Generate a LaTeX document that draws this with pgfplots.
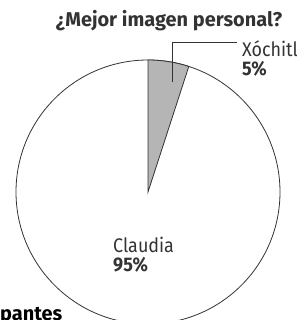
\documentclass[border=0pt]{standalone}
\usepackage{pgfplots}
\pgfplotsset{compat=1.18}
\usepackage{fontspec}
\setmainfont{Fira Sans}
\definecolor{wedge}{HTML}{B5B5B5}
\definecolor{ink}{HTML}{333333}
\begin{document}
\begin{tikzpicture}
\path[use as bounding box] (0,0) rectangle (297bp,320bp);
\clip (0,0) rectangle (297bp,320bp);
\def\vX{5}\def\vC{95}
\pgfmathsetmacro\aEnd{90-3.6*\vX}
\begin{axis}[hide axis, x=132bp, y=132bp, xmin=-1.2, xmax=1.2, ymin=-1.2, ymax=1.6,
  anchor=origin, at={(148bp,128bp)}, clip=false]
\addplot[draw=none] coordinates {(0,0)};
\fill[white, draw=ink, line width=0.8bp] (axis cs:0,0) circle[radius=132bp];
\filldraw[fill=wedge, draw=ink, line width=0.8bp] (axis cs:0,0) -- (axis cs:{cos(\aEnd)},{sin(\aEnd)}) arc[start angle=\aEnd, end angle=90, radius=132bp] -- cycle;
\draw[ink, line width=0.8bp] (axis cs:0.182,0.833) -- (axis cs:0.182,1.136) -- (axis cs:0.674,1.136);
\node[anchor=base, inner sep=0, font=\fontsize{20}{22}\selectfont\bfseries, text=ink] at (axis cs:0.159,1.25) {¿Mejor imagen personal?};
\node[anchor=base west, inner sep=0, font=\fontsize{18}{20}\selectfont, text=ink] at (axis cs:0.712,1.030) {\scalebox{1}[1.1]{Xóchitl}};
\node[anchor=base west, inner sep=0, font=\fontsize{18}{20}\selectfont\bfseries, text=ink] at (axis cs:0.712,0.879) {\scalebox{1}[1.1]{\vX\%}};
\node[anchor=base west, inner sep=0, font=\fontsize{18}{20}\selectfont, text=ink] at (axis cs:-0.265,-0.455) {\scalebox{1}[1.1]{Claudia}};
\node[anchor=base west, inner sep=0, font=\fontsize{18}{20}\selectfont\bfseries, text=ink] at (axis cs:-0.265,-0.606) {\scalebox{1}[1.1]{\vC\%}};
\node[anchor=base west, inner sep=0, font=\fontsize{20}{22}\selectfont\bfseries, text=black] at (axis cs:-1.121,-0.977) {pantes};
\end{axis}
\end{tikzpicture}
\end{document}
